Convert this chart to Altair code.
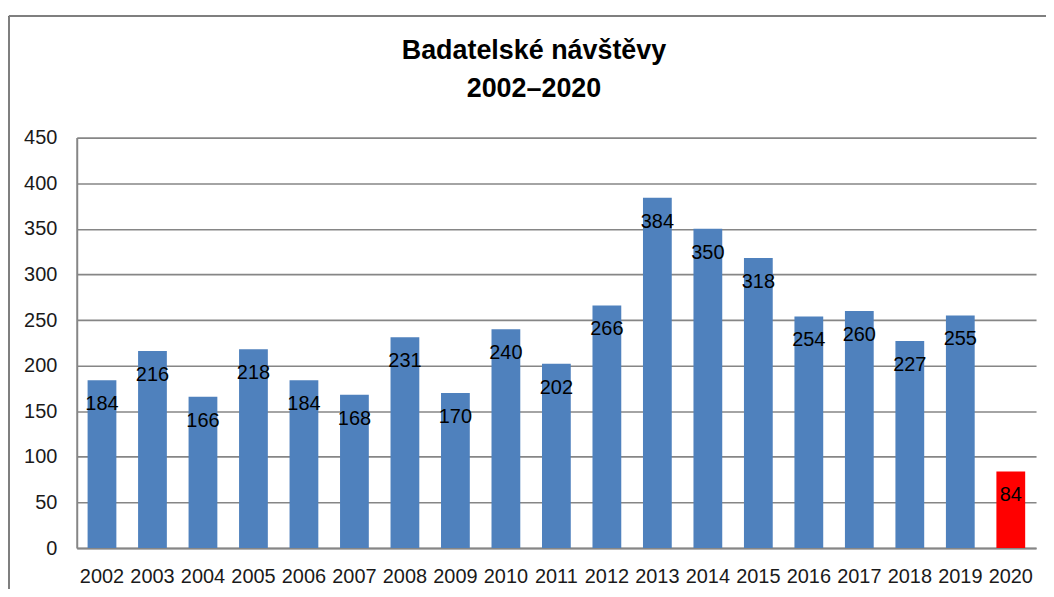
import altair as alt
import pandas as pd

years = ["2002", "2003", "2004", "2005", "2006", "2007", "2008", "2009", "2010",
         "2011", "2012", "2013", "2014", "2015", "2016", "2017", "2018", "2019", "2020"]
visits = [184, 216, 166, 218, 184, 168, 231, 170, 240, 202, 266, 384, 350, 318,
          254, 260, 227, 255, 84]
highlight = ["no"] * 18 + ["yes"]
title_lines = ["Badatelské návštěvy", "2002–2020"]

df = pd.DataFrame({"year": years, "visits": visits, "hl": highlight})

FONT = "Liberation Sans"
GRID = "#868686"

x = alt.X("year:N", sort=years, title=None,
          scale=alt.Scale(paddingInner=0.43, paddingOuter=0.215),
          axis=alt.Axis(labelAngle=0, labelFont=FONT, labelFontSize=20,
                        labelColor="#1a1a1a", labelPadding=19, ticks=False,
                        domainColor=GRID, domainWidth=2))
y = alt.Y("visits:Q", title=None,
          scale=alt.Scale(domain=[0, 450], nice=False),
          axis=alt.Axis(values=list(range(0, 451, 50)), labelFont=FONT,
                        labelFontSize=20, labelColor="#1a1a1a", labelPadding=20,
                        ticks=False, gridColor=GRID, gridWidth=1.6,
                        domainColor=GRID, domainWidth=2))

base = alt.Chart(df)

bars = base.mark_bar().encode(
    x=x, y=y,
    color=alt.Color("hl:N", scale=alt.Scale(domain=["no", "yes"],
                                            range=["#4F81BD", "#FF0000"]),
                    legend=None),
)

labels = base.mark_text(baseline="middle", dy=24, font=FONT, fontSize=20,
                        color="#000000").encode(
    x=alt.X("year:N", sort=years), y="visits:Q", text="visits:Q")

border_v = base.mark_rule(color="#7f7f7f", strokeWidth=2, clip=False).encode(
    x=alt.value(-68), y=alt.value(-122), y2=alt.value(470))
border_h = base.mark_rule(color="#7f7f7f", strokeWidth=2, clip=False).encode(
    x=alt.value(-68), x2=alt.value(1000), y=alt.value(-122))

title1 = alt.Chart(pd.DataFrame({"t": [title_lines[0]]})).mark_text(
    font=FONT, fontSize=27, fontWeight="bold", color="#000000",
    baseline="middle", align="center", clip=False).encode(
    x=alt.value(459), y=alt.value(-87), text="t:N")
title2 = alt.Chart(pd.DataFrame({"t": [title_lines[1]]})).mark_text(
    font=FONT, fontSize=27, fontWeight="bold", color="#000000",
    baseline="middle", align="center", clip=False).encode(
    x=alt.value(459), y=alt.value(-49), text="t:N")

chart = alt.layer(border_v, border_h, bars, labels, title1, title2).properties(
    width=963, height=412,
    autosize=alt.AutoSizeParams(type="none"),
    padding={"left": 69, "top": 129, "right": 10, "bottom": 40},
).configure_view(stroke=None)

chart.save("out.html", embed_options={"renderer": "svg", "actions": False})
